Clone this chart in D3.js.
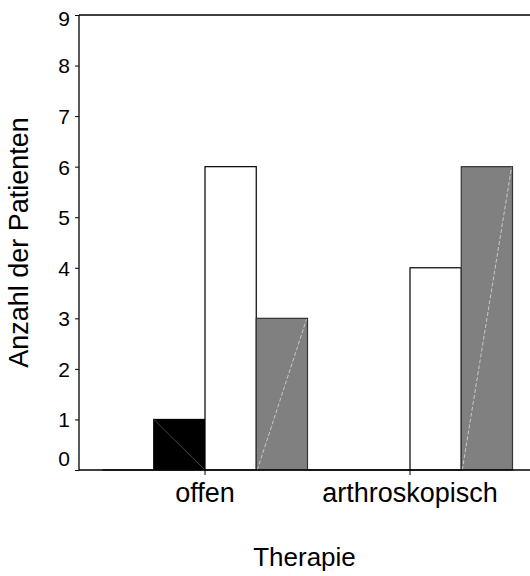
<!DOCTYPE html>
<html>
<head>
<meta charset="utf-8">
<script src="https://cdn.jsdelivr.net/npm/d3@7"></script>
<style>
  body { margin: 0; background: #fff; }
  svg text { font-family: Arial, "Liberation Sans", sans-serif; fill: #000; }
</style>
</head>
<body>
<svg id="chart" width="530" height="576"></svg>
<script>
const categories = ["offen", "arthroskopisch"];
const seriesNames = ["s0", "s1", "s2", "s3"];
const seriesValues = [
  [0, 0],   // leer
  [1, 0],   // schwarz
  [6, 4],   // weiß
  [3, 6]    // grau
];
const seriesFill = ["#ffffff", "#000000", "#ffffff", "#808080"];
const yTicks = [0, 1, 2, 3, 4, 5, 6, 7, 8, 9];

const svg = d3.select("#chart");
const plotL = 79, plotR = 530, plotT = 15, plotB = 470;

const y = d3.scaleLinear().domain([0, 9]).range([plotB, plotT]);
const x = d3.scaleBand().domain(categories).range([102.5, 512.5]).padding(0);
const xs = d3.scaleBand().domain(seriesNames).range([0, x.bandwidth()]).padding(0);

// frame lines
svg.append("line").attr("x1", plotL).attr("x2", plotR).attr("y1", plotT).attr("y2", plotT)
  .attr("stroke", "#000").attr("stroke-width", 1.3);
svg.append("line").attr("x1", plotL).attr("x2", plotL).attr("y1", plotT).attr("y2", plotB)
  .attr("stroke", "#000").attr("stroke-width", 1.3);

// bars
const data = [];
seriesNames.forEach((s, i) => {
  categories.forEach((c, j) => data.push({ s, i, c, v: seriesValues[i][j] }));
});

const g = svg.append("g");
data.forEach(d => {
  const x0 = x(d.c) + xs(d.s), w = xs.bandwidth();
  const y0 = y(d.v), h = plotB - y0;
  if (d.v === 0) {
    g.append("line").attr("x1", x0).attr("x2", x0 + w).attr("y1", plotB).attr("y2", plotB)
      .attr("stroke", "#3a1a1a").attr("stroke-width", 1.5);
    return;
  }
  g.append("rect").attr("x", x0).attr("y", y0).attr("width", w).attr("height", h)
    .attr("fill", seriesFill[d.i])
    .attr("stroke", d.i === 3 ? "#333" : "#000").attr("stroke-width", 1.2);
  if (d.i === 1) {
    g.append("line").attr("x1", x0).attr("y1", y0).attr("x2", x0 + w).attr("y2", plotB)
      .attr("stroke", "#444").attr("stroke-width", 1);
  }
  if (d.i === 3) {
    g.append("line").attr("x1", x0 + 1).attr("y1", plotB).attr("x2", x0 + w - 1).attr("y2", y0 + 1)
      .attr("stroke", "#c8c8c8").attr("stroke-width", 1).attr("stroke-dasharray", "4,2");
  }
});

// x axis
svg.append("line").attr("x1", plotL).attr("x2", plotR).attr("y1", plotB).attr("y2", plotB)
  .attr("stroke", "#000").attr("stroke-width", 1.3);
const xAxis = svg.append("g").attr("transform", `translate(0,${plotB})`)
  .call(d3.axisBottom(x).tickSize(5).tickSizeOuter(0));
xAxis.select(".domain").remove();
xAxis.selectAll(".tick line").attr("stroke", "#000");
xAxis.selectAll("text").attr("font-size", 27).attr("y", 32).attr("dy", 0);

// y axis
const yAxis = svg.append("g").attr("transform", `translate(${plotL},0)`)
  .call(d3.axisLeft(y).tickValues(yTicks).tickSize(4).tickPadding(5).tickSizeOuter(0));
yAxis.select(".domain").remove();
yAxis.selectAll(".tick line").attr("stroke", "#000");
yAxis.selectAll("text").attr("font-size", 21)
  .attr("dy", v => v === 0 ? "-0.2em" : v === 9 ? "0.5em" : "0.35em");

// titles
svg.append("text").attr("x", (plotL + plotR) / 2).attr("y", 566)
  .attr("text-anchor", "middle").attr("font-size", 26).text("Therapie");
svg.append("text").attr("transform", `translate(28,${(plotT + plotB) / 2}) rotate(-90)`)
  .attr("text-anchor", "middle").attr("font-size", 27).text("Anzahl der Patienten");
</script>
</body>
</html>
